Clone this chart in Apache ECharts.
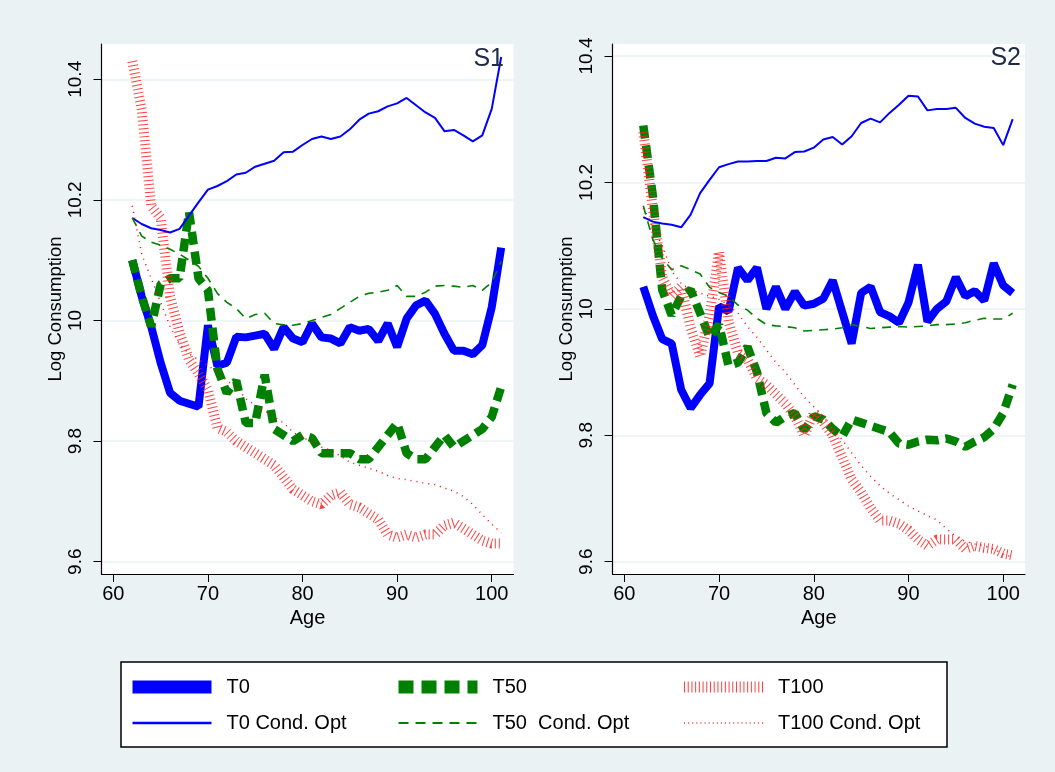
<!DOCTYPE html>
<html>
<head>
<meta charset="utf-8">
<script src="https://cdn.jsdelivr.net/npm/echarts@6/dist/echarts.min.js"></script>
<style>html,body{margin:0;padding:0;background:#eaf2f3;}#c{width:1055px;height:772px;}</style>
</head>
<body>
<div id="c"></div>
<script>
const ages = [62,63,64,65,66,67,68,69,70,71,72,73,74,75,76,77,78,79,80,81,82,83,84,85,86,87,88,89,90,91,92,93,94,95,96,97,98,99,100,101];
const xTicks = [60,70,80,90,100];
const yTicks = [9.6,9.8,10,10.2,10.4];

// Panel S1
const s1_T0   = [10.10,10.04,9.99,9.93,9.88,9.867,9.862,9.857,9.992,9.925,9.93,9.973,9.972,9.975,9.978,9.953,9.989,9.970,9.964,9.995,9.972,9.970,9.962,9.989,9.983,9.986,9.966,9.995,9.956,10.003,10.025,10.033,10.011,9.978,9.950,9.950,9.944,9.959,10.022,10.121];
const s1_T50  = [10.10,10.04,9.99,10.06,10.07,10.07,10.18,10.07,10.05,9.92,9.88,9.90,9.83,9.83,9.91,9.82,9.81,9.80,9.81,9.805,9.78,9.78,9.78,9.78,9.77,9.77,9.79,9.81,9.83,9.78,9.77,9.77,9.79,9.81,9.79,9.80,9.81,9.82,9.84,9.89];
const s1_T100 = [10.43,10.35,10.19,10.17,10.04,9.98,9.935,9.912,9.885,9.822,9.815,9.80,9.79,9.78,9.77,9.76,9.74,9.72,9.71,9.70,9.695,9.71,9.715,9.695,9.69,9.68,9.67,9.645,9.64,9.645,9.64,9.645,9.645,9.66,9.665,9.655,9.645,9.635,9.63,9.63];
const s1_T0c  = [10.170,10.160,10.153,10.150,10.146,10.152,10.174,10.196,10.217,10.223,10.231,10.242,10.245,10.255,10.260,10.265,10.279,10.280,10.291,10.301,10.305,10.301,10.305,10.317,10.333,10.343,10.347,10.355,10.360,10.369,10.357,10.345,10.336,10.314,10.316,10.307,10.297,10.307,10.351,10.437];
const s1_T50c = [10.17,10.14,10.13,10.125,10.118,10.11,10.10,10.09,10.07,10.045,10.03,10.02,10.003,10.01,10.012,9.995,9.993,9.992,9.995,10.00,10.005,10.01,10.02,10.03,10.04,10.045,10.047,10.05,10.058,10.04,10.04,10.047,10.057,10.058,10.057,10.055,10.058,10.05,10.063,10.098];
const s1_T100c= [10.19,10.11,10.07,10.03,9.99,9.96,9.945,9.935,9.925,9.915,9.90,9.89,9.87,9.86,9.85,9.84,9.83,9.815,9.805,9.80,9.79,9.785,9.775,9.765,9.76,9.755,9.75,9.743,9.738,9.736,9.733,9.73,9.728,9.722,9.717,9.708,9.695,9.678,9.662,9.648];

// Panel S2
const s2_T0   = [10.035,9.99,9.952,9.945,9.872,9.843,9.864,9.882,10.004,9.996,10.065,10.045,10.065,10.0,10.035,10.0,10.027,10.005,10.008,10.016,10.045,9.995,9.945,10.025,10.035,9.995,9.988,9.978,10.01,10.07,9.98,10.0,10.012,10.05,10.02,10.028,10.013,10.072,10.037,10.025];
const s2_T50  = [10.29,10.18,10.03,9.99,10.02,10.03,9.993,9.955,9.975,9.91,9.915,9.94,9.90,9.835,9.82,9.83,9.835,9.808,9.83,9.825,9.81,9.798,9.825,9.82,9.815,9.81,9.805,9.787,9.785,9.79,9.793,9.792,9.795,9.79,9.782,9.79,9.797,9.81,9.835,9.88];
const s2_T100 = [10.28,10.16,10.05,10.02,10.035,9.97,9.925,9.99,10.09,9.98,9.93,9.92,9.89,9.88,9.865,9.85,9.83,9.80,9.835,9.82,9.80,9.765,9.73,9.71,9.685,9.665,9.665,9.66,9.65,9.635,9.625,9.635,9.635,9.635,9.62,9.625,9.622,9.62,9.613,9.61];
const s2_T0c  = [10.145,10.138,10.135,10.133,10.129,10.149,10.183,10.204,10.224,10.229,10.233,10.233,10.234,10.234,10.239,10.238,10.248,10.249,10.255,10.268,10.272,10.26,10.273,10.294,10.301,10.295,10.31,10.323,10.337,10.336,10.314,10.316,10.316,10.318,10.302,10.293,10.288,10.286,10.259,10.30];
const s2_T50c = [10.163,10.11,10.08,10.062,10.068,10.062,10.055,10.034,10.026,10.02,10.006,9.998,9.985,9.975,9.973,9.972,9.97,9.965,9.966,9.967,9.968,9.97,9.975,9.972,9.969,9.97,9.971,9.972,9.971,9.972,9.973,9.975,9.975,9.976,9.978,9.982,9.985,9.984,9.984,9.993];
const s2_T100c= [10.16,10.13,10.10,10.06,10.04,10.03,10.025,10.02,10.015,10.005,9.993,9.972,9.955,9.935,9.915,9.90,9.88,9.86,9.845,9.83,9.81,9.793,9.772,9.752,9.735,9.72,9.708,9.698,9.688,9.68,9.673,9.666,9.652,9.64,9.632,9.628,9.625,9.62,9.612,9.607];

const FONT = 'Liberation Sans';
const styles = {
  'T0':             {color:'#0000ff', width:8},
  'T50':            {color:'#008000', width:8.5, type:[13,7]},
  'T100':           {color:'#ff2020', width:10, type:[1,3], opacity:0.85},
  'T0 Cond. Opt':   {color:'#0000ff', width:2},
  'T50  Cond. Opt': {color:'#008000', width:1.6, type:[9,7]},
  'T100 Cond. Opt': {color:'#ff0000', width:1.5, type:[1,5]}
};
const panels = [
  {'T0':s1_T0,'T50':s1_T50,'T100':s1_T100,'T0 Cond. Opt':s1_T0c,'T50  Cond. Opt':s1_T50c,'T100 Cond. Opt':s1_T100c},
  {'T0':s2_T0,'T50':s2_T50,'T100':s2_T100,'T0 Cond. Opt':s2_T0c,'T50  Cond. Opt':s2_T50c,'T100 Cond. Opt':s2_T100c}
];
const order = ['T0','T50','T100','T0 Cond. Opt','T50  Cond. Opt','T100 Cond. Opt'];

const series = [];
panels.forEach((p, gi) => {
  order.forEach((name, k) => {
    const st = styles[name];
    series.push({
      name, type:'line', xAxisIndex:gi, yAxisIndex:gi,
      data: ages.map((a,i)=>[a, p[name][i]]),
      symbol:'none', showSymbol:false, silent:true,
      lineStyle: Object.assign({}, st),
      itemStyle: {color: st.color},
      z: 2 + k
    });
  });
});

const yRanges = [[9.5796, 10.4585],[9.5805, 10.419]];
const grids = [
  {left:101.5, top:44, width:412, height:530, show:true, backgroundColor:'#ffffff', borderWidth:0},
  {left:612.5, top:44, width:412.5, height:530, show:true, backgroundColor:'#ffffff', borderWidth:0}
];
const xAxes = grids.map((g,gi)=>({
  type:'value', gridIndex:gi, min:58.75, max:102.3,
  name:'Age', nameLocation:'middle', nameGap:30,
  nameTextStyle:{fontFamily:FONT, fontSize:20, color:'#000'},
  axisLine:{show:true, onZero:false, lineStyle:{color:'#000', width:1.2}},
  axisTick:{show:true, length:8, lineStyle:{color:'#000'}, customValues:xTicks},
  axisLabel:{fontFamily:FONT, fontSize:20, color:'#000', margin:10, customValues:xTicks},
  splitLine:{show:false}
}));
const yAxes = grids.map((g,gi)=>({
  type:'value', gridIndex:gi, min:yRanges[gi][0], max:yRanges[gi][1],
  name:'Log Consumption', nameLocation:'middle', nameGap:35,
  nameTextStyle:{fontFamily:FONT, fontSize:18.5, color:'#000'},
  axisLine:{show:true, onZero:false, lineStyle:{color:'#000', width:1.2}},
  axisTick:{show:true, length:8, lineStyle:{color:'#000'}, customValues:yTicks},
  axisLabel:{fontFamily:FONT, fontSize:19, color:'#000', margin:16, rotate:90, customValues:yTicks,
    formatter:(v)=> String(Math.round(v*10)/10)},
  splitLine:{show:true, lineStyle:{color:'#eaf2f3', width:1.5}}
}));

// legend icon paths (pure decoration, not data)
function stripePath(n, step, y0, h, w){
  let s = 'path://M0,0L0,0M0,14L0,14';
  for (let i=0;i<n;i++){ s += 'M'+(i*step)+','+y0+'h'+w+'v'+h+'h-'+w+'z'; }
  return s;
}
const hatchIcon = stripePath(22, 3.7, 1.5, 11, 1);
const dotIcon = stripePath(20, 4.1, 6.3, 1.4, 1);

const legTS = {fontFamily:FONT, fontSize:20, color:'#000', padding:[0,0,0,10], lineHeight:20};
function leg(items, left){
  return {data:items, left, top:677, orient:'vertical', itemWidth:79, itemHeight:14, itemGap:16,
    padding:0, textStyle:legTS, selectedMode:false, itemStyle:{opacity:0}, symbolKeepAspect:false};
}
const option = {
  backgroundColor:'#eaf2f3',
  animation:false,
  title:[
    {text:'S1', right:1055-504, top:47, padding:0, textStyle:{fontFamily:FONT, fontSize:25, fontWeight:'normal', color:'#1c2a48'}},
    {text:'S2', right:1055-1021, top:46, padding:0, textStyle:{fontFamily:FONT, fontSize:25, fontWeight:'normal', color:'#1c2a48'}}
  ],
  grid:grids, xAxis:xAxes, yAxis:yAxes,
  legend:[
    leg([{name:'T0', lineStyle:{width:13, color:'#0000ff'}}, {name:'T0 Cond. Opt', lineStyle:{width:2.5, color:'#0000ff'}}], 126),
    leg([{name:'T50', lineStyle:{width:13, type:[15,8], color:'#008000'}}, {name:'T50  Cond. Opt', lineStyle:{width:2, type:[10,7], color:'#008000'}}], 392),
    leg([{name:'T100', icon:hatchIcon, itemStyle:{color:'#ff4040', opacity:1, borderWidth:0}},
         {name:'T100 Cond. Opt', icon:dotIcon, itemStyle:{color:'#ff3030', opacity:1, borderWidth:0}}], 684)
  ],
  graphic:[{type:'rect', shape:{x:121, y:662, width:826, height:85}, style:{fill:'#ffffff', stroke:'#000000', lineWidth:1.5}, z:0, silent:true}],
  series
};
const chart = echarts.init(document.getElementById('c'), null, {renderer:'canvas'});
chart.setOption(option);
</script>
</body>
</html>
